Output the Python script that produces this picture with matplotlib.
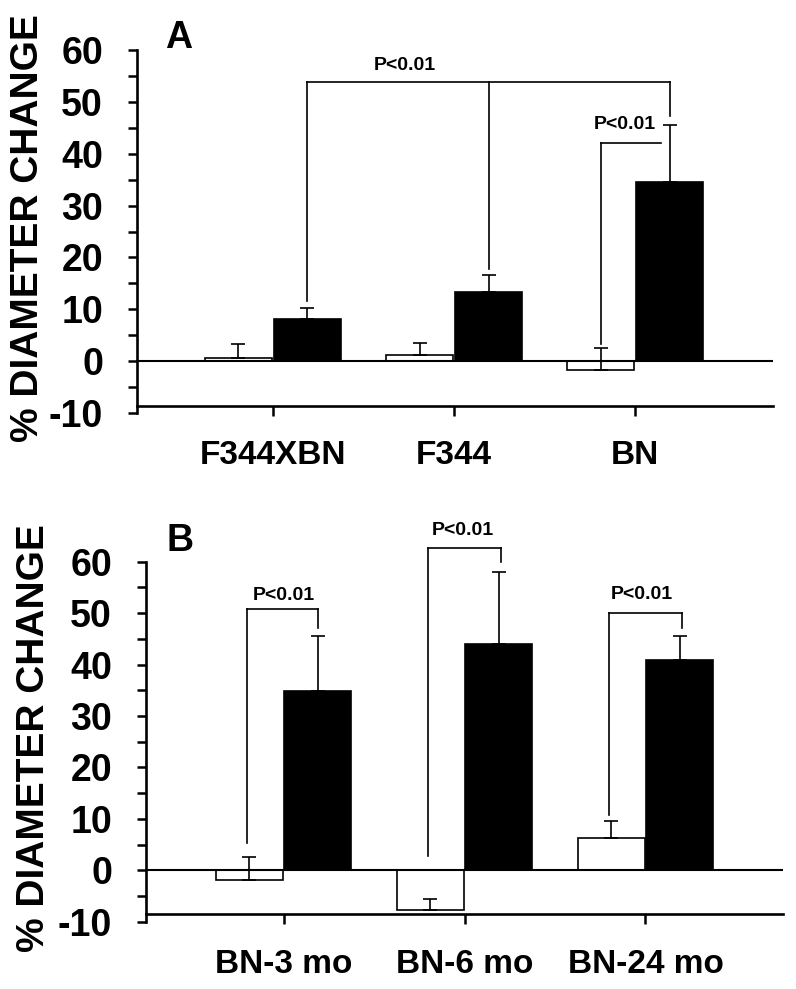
import numpy as np
import matplotlib
matplotlib.use('Agg')
import matplotlib.pyplot as plt

plt.rcParams['font.family'] = ['Liberation Sans', 'DejaVu Sans']
plt.rcParams['font.weight'] = 'bold'
plt.rcParams['axes.unicode_minus'] = False

# --- dados ---
groups_a = ['F344XBN', 'F344', 'BN']
ctrl_a = [0.6, 1.2, -1.8]
ctrl_a_err = [2.7, 2.3, 4.3]
treat_a = [8.1, 13.4, 34.6]
treat_a_err = [2.2, 3.2, 10.9]

groups_b = ['BN-3 mo', 'BN-6 mo', 'BN-24 mo']
ctrl_b = [-1.9, -7.8, 6.2]
ctrl_b_err = [4.4, 2.3, 3.4]
treat_b = [34.9, 43.9, 40.8]
treat_b_err = [10.6, 14.0, 4.8]

# colchetes de significancia: (x esq, x dir, y, queda esq, queda dir)
brackets_a = [(0.19, 2.19, 53.8, 11.6, 47.3), (1.81, 2.14, 42.0, 3.3, None)]
bracket_a_mid = (1.19, 17.8)
labels_a = [(0.73, 57.1), (1.94, 45.6)]

brackets_b = [(-0.20, 0.19, 50.8, 5.3, 47.1),
              (0.80, 1.20, 62.7, 2.7, 59.9),
              (1.80, 2.20, 50.0, 10.7, 47.1)]
labels_b = [(0.0, 53.5), (0.99, 66.1), (1.98, 53.7)]

W = 0.37
OFF = 0.19
LW_BR = 1.2


def draw_panel(ax, groups, ctrl, ctrl_err, treat, treat_err, xlim):
    x = np.arange(len(groups))
    ax.bar(x - OFF, ctrl, W, color='white', edgecolor='black', linewidth=1.2, zorder=2)
    ax.bar(x + OFF, treat, W, color='black', edgecolor='black', linewidth=1.2, zorder=2)
    ax.errorbar(x - OFF, ctrl, yerr=[np.zeros(len(x)), ctrl_err], fmt='none',
                ecolor='black', elinewidth=1.2, capsize=5, capthick=1.2, zorder=3)
    ax.errorbar(x + OFF, treat, yerr=[np.zeros(len(x)), treat_err], fmt='none',
                ecolor='black', elinewidth=1.2, capsize=5, capthick=1.2, zorder=1)
    ax.axhline(0, color='black', linewidth=1.5, zorder=4)

    ax.set_xlim(*xlim)
    ax.set_ylim(-10, 60)
    ax.set_xticks(x)
    ax.set_xticklabels(groups)
    ax.set_yticks(np.arange(-10, 61, 10))
    ax.set_yticks(np.arange(-5, 60, 10), minor=True)
    ax.tick_params(axis='y', which='both', direction='out', length=6.5, width=1.8,
                   labelsize=27, pad=18)
    ax.tick_params(axis='x', direction='out', length=7, width=1.8, labelsize=24, pad=18)
    for lab in ax.get_yticklabels() + ax.get_xticklabels():
        lab.set_fontweight('bold')

    ax.spines['top'].set_visible(False)
    ax.spines['right'].set_visible(False)
    ax.spines['left'].set_linewidth(1.9)
    ax.spines['bottom'].set_linewidth(1.9)
    ax.spines['bottom'].set_position(('data', -8.6))


def draw_bracket(ax, x0, x1, y, d0, d1):
    ax.plot([x0, x1], [y, y], color='black', lw=LW_BR, clip_on=False, zorder=5)
    if d0 is not None:
        ax.plot([x0, x0], [y, d0], color='black', lw=LW_BR, clip_on=False, zorder=5)
    if d1 is not None:
        ax.plot([x1, x1], [y, d1], color='black', lw=LW_BR, clip_on=False, zorder=5)


fig = plt.figure(figsize=(7.96, 9.89), dpi=100)
ax_a = fig.add_axes([0.1721, 0.5824, 0.9711 - 0.1721, 0.9494 - 0.5824])
ax_b = fig.add_axes([0.1834, 0.0681, 0.9837 - 0.1834, 0.4321 - 0.0681])

draw_panel(ax_a, groups_a, ctrl_a, ctrl_a_err, treat_a, treat_a_err, (-0.75, 2.76))
draw_panel(ax_b, groups_b, ctrl_b, ctrl_b_err, treat_b, treat_b_err, (-0.76, 2.76))

for br in brackets_a:
    draw_bracket(ax_a, *br)
ax_a.plot([bracket_a_mid[0]] * 2, [brackets_a[0][2], bracket_a_mid[1]],
          color='black', lw=LW_BR, zorder=5)
for tx, ty in labels_a:
    ax_a.text(tx, ty, 'P<0.01', ha='center', va='center', fontsize=14, fontweight='bold')

for br in brackets_b:
    draw_bracket(ax_b, *br)
for tx, ty in labels_b:
    ax_b.text(tx, ty, 'P<0.01', ha='center', va='center', fontsize=14,
              fontweight='bold', clip_on=False)

fig.text(28 / 796, 1 - 228 / 989, '% DIAMETER CHANGE', rotation=90, ha='center',
         va='center', fontsize=28, fontweight='bold')
fig.text(34 / 796, 1 - 738 / 989, '% DIAMETER CHANGE', rotation=90, ha='center',
         va='center', fontsize=28, fontweight='bold')
fig.text(179 / 796, 1 - 38 / 989, 'A', ha='center', va='center', fontsize=27,
         fontweight='bold')
fig.text(180 / 796, 1 - 541 / 989, 'B', ha='center', va='center', fontsize=27,
         fontweight='bold')

plt.savefig('out.png', dpi=100)
